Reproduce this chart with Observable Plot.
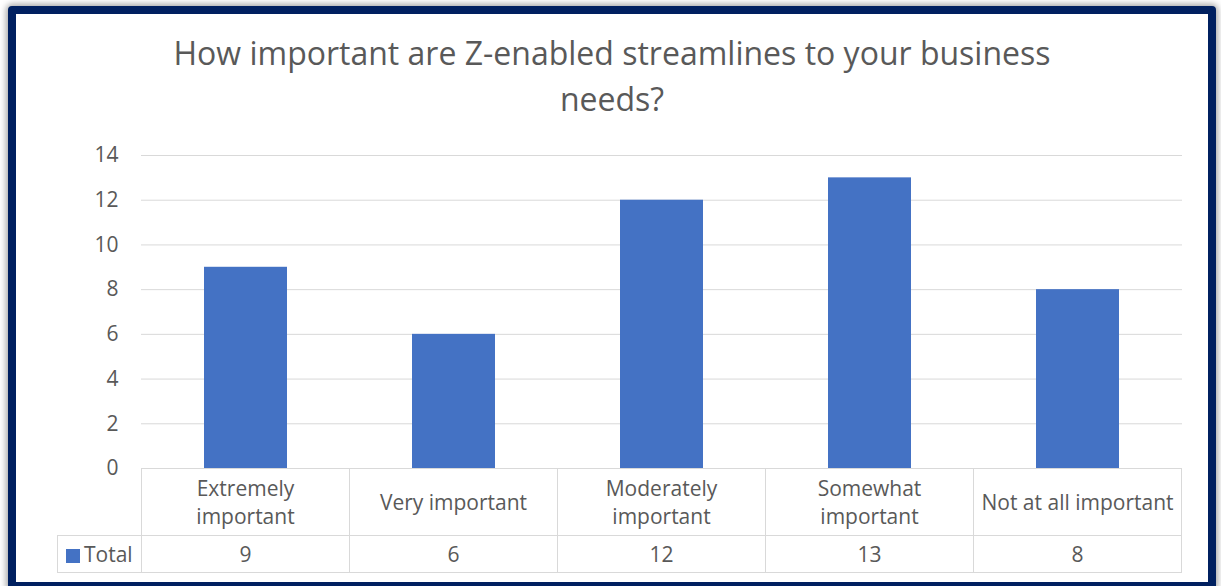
<!DOCTYPE html>
<html><head><meta charset="utf-8">
<script src="https://cdn.jsdelivr.net/npm/d3@7"></script>
<script src="https://cdn.jsdelivr.net/npm/@observablehq/plot@0.6"></script>
<style>
html,body{margin:0;padding:0;width:1221px;height:586px;overflow:hidden;background:#fff;font-family:"Open Sans",sans-serif;color:#595959;}
#frame{position:absolute;left:8px;top:6px;width:1192px;height:568px;border:8px solid #002060;border-radius:4px;box-shadow:0 0 6px 2px rgba(0,0,0,0.35);background:#fff;}
#title{position:absolute;left:142px;top:30px;width:940px;text-align:center;font-size:32px;line-height:46px;color:#595959;}
#plot{position:absolute;left:0;top:130px;}
#tbl{position:absolute;border-collapse:collapse;table-layout:fixed;font-size:21px;color:#595959;}
#tbl td{border:1px solid #d9d9d9;text-align:center;padding:0;line-height:28px;white-space:pre-line;}
#tbl td.corner{border:none;}
#tbl td.series{text-align:left;padding-left:8px;white-space:nowrap;}
.key{display:inline-block;width:14px;height:14px;background:#4472C4;margin-right:4px;vertical-align:-1px;}
</style>
</head><body>
<div id="frame"></div>
<div id="title"></div>
<div id="plot"></div>
<table id="tbl"></table>
<script>
const titleText = "How important are Z-enabled streamlines to your business needs?";
const categories = ["Extremely important","Very important","Moderately important","Somewhat important","Not at all important"];
const tableLabels = ["Extremely\nimportant","Very important","Moderately\nimportant","Somewhat\nimportant","Not at all important"];
const totals = [9,6,12,13,8];
const seriesName = "Total";
const yTicks = [0,2,4,6,8,10,12,14];
const barColor = "#4472C4";

document.getElementById("title").textContent = titleText;

const data = categories.map((c,i)=>({category:c,total:totals[i]}));

const plotTop = 130;
const chart = Plot.plot({
  width:1221, height:350,
  marginLeft:141, marginRight:39, marginTop:25, marginBottom:12,
  style:{fontFamily:'"Open Sans", sans-serif', fontSize:"21px", color:"#595959", background:"transparent", overflow:"visible"},
  x:{domain:categories, paddingInner:0.6, paddingOuter:0.3, axis:null},
  y:{domain:[0,14], axis:null},
  marks:[
    Plot.gridY(yTicks,{stroke:"#d9d9d9", strokeOpacity:1}),
    Plot.axisY(yTicks,{tickSize:0, tickPadding:23, fill:"#595959", fontSize:21, label:null}),
    Plot.barY(data,{x:"category", y:"total", fill:barColor})
  ]
});
document.getElementById("plot").appendChild(chart);

// data table aligned with the Plot scales
const xs = chart.scale("x");
const ys = chart.scale("y");
const step = xs.step;
const x0 = xs.range[0];
const leftW = 84;
const tbl = document.getElementById("tbl");
tbl.style.left = (x0 - leftW) + "px";
tbl.style.top = (plotTop + ys.apply(0)) + "px";
tbl.style.width = (leftW + step*categories.length) + "px";
const cg = document.createElement("colgroup");
const c0 = document.createElement("col"); c0.style.width = leftW + "px"; cg.appendChild(c0);
categories.forEach(()=>{const c=document.createElement("col"); c.style.width = step+"px"; cg.appendChild(c);});
tbl.appendChild(cg);
const r1 = tbl.insertRow();
r1.style.height = "67px";
const corner = r1.insertCell(); corner.className="corner";
tableLabels.forEach(l=>{const td=r1.insertCell(); td.textContent=l;});
const r2 = tbl.insertRow();
r2.style.height = "37px";
const s = r2.insertCell(); s.className="series";
const key = document.createElement("span"); key.className="key"; key.style.background=barColor;
s.appendChild(key); s.appendChild(document.createTextNode(seriesName));
totals.forEach(v=>{const td=r2.insertCell(); td.textContent=String(v);});
</script>
</body></html>
